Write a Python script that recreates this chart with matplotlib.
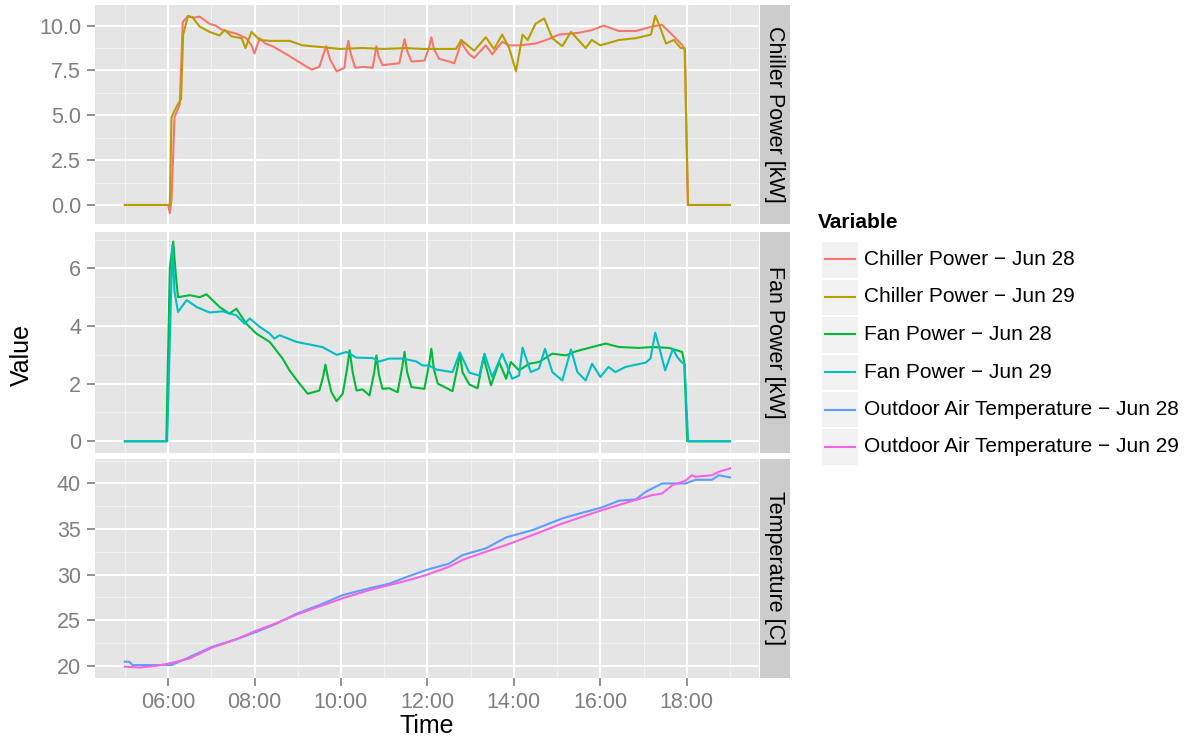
import matplotlib
matplotlib.use("Agg")
import matplotlib.pyplot as plt
from matplotlib.patches import Rectangle
from matplotlib.lines import Line2D
from matplotlib.ticker import FixedLocator, FuncFormatter

plt.rcParams['font.family'] = ['Liberation Sans', 'DejaVu Sans']

# ---------------------------
# DATA (time in hours of day)
# ---------------------------

chiller_28_t = [5.0, 6.0, 6.04, 6.08, 6.15, 6.27, 6.34, 6.45, 6.6, 6.73, 6.96, 7.1, 7.26, 7.58,
                7.81, 7.93, 8.0, 8.12, 8.25, 8.42, 8.81, 9.11, 9.32, 9.5, 9.58, 9.66, 9.75, 9.9,
                10.08, 10.12, 10.17, 10.23, 10.33, 10.5, 10.73, 10.78, 10.82, 10.87, 10.96, 11.35,
                11.42, 11.47, 11.53, 11.63, 11.93, 12.04, 12.09, 12.15, 12.27, 12.5, 12.62, 12.72,
                12.78, 12.85, 12.97, 13.08, 13.35, 13.5, 13.73, 13.89, 14.12, 14.5, 14.75, 15.05,
                15.5, 15.8, 16.08, 16.43, 16.82, 17.2, 17.42, 17.66, 17.9, 17.96, 18.02, 19.0]
chiller_28_kw = [0, 0, -0.45, 0.3, 4.9, 5.6, 10.2, 10.5, 10.45, 10.5, 10.1, 10.0, 9.75, 9.55,
                 9.3, 8.9, 8.45, 9.3, 9.0, 8.85, 8.3, 7.85, 7.55, 7.7, 8.3, 8.85, 8.1, 7.45,
                 7.65, 8.5, 9.15, 8.4, 7.65, 7.7, 7.65, 8.3, 8.85, 8.3, 7.8, 7.9,
                 8.7, 9.25, 8.6, 8.0, 8.05, 8.8, 9.35, 8.7, 8.15, 8.0, 7.9, 8.6,
                 9.15, 8.8, 8.4, 8.2, 8.9, 8.4, 9.1, 8.9, 8.9, 9.0, 9.2, 9.5,
                 9.6, 9.75, 10.0, 9.7, 9.7, 9.95, 10.05, 9.5, 8.9, 8.6, 0, 0]

chiller_29_t = [5.0, 6.04, 6.08, 6.2, 6.3, 6.35, 6.46, 6.57, 6.73, 6.96, 7.19, 7.31, 7.47, 7.7,
                7.79, 7.93, 8.12, 8.35, 8.81, 9.11, 9.57, 9.97, 10.5, 11.0, 11.5, 11.88, 12.66,
                12.78, 13.08, 13.35, 13.54, 13.73, 13.89, 14.05, 14.2, 14.32, 14.5, 14.7, 14.89,
                15.12, 15.32, 15.66, 15.8, 16.0, 16.43, 16.82, 17.17, 17.27, 17.36, 17.52, 17.7,
                17.86, 17.95, 18.03, 19.0]
chiller_29_kw = [0, 0, 4.9, 5.5, 5.9, 9.5, 10.55, 10.45, 9.95, 9.65, 9.45, 9.75, 9.4, 9.3,
                 8.75, 9.65, 9.2, 9.15, 9.15, 8.9, 8.8, 8.7, 8.75, 8.7, 8.75, 8.7, 8.7,
                 9.2, 8.6, 9.35, 8.7, 9.5, 8.75, 7.45, 9.5, 9.2, 10.1, 10.4, 9.3,
                 8.85, 9.65, 8.75, 9.2, 8.9, 9.2, 9.3, 9.5, 10.55, 10.05, 9.0, 9.2,
                 8.75, 8.75, 0, 0]

fan_28_t = [5.0, 5.96, 6.04, 6.12, 6.18, 6.23, 6.5, 6.73, 6.89, 7.19, 7.42, 7.58, 7.81, 8.04,
            8.35, 8.65, 8.81, 9.04, 9.23, 9.5, 9.58, 9.64, 9.7, 9.78, 9.9, 10.04, 10.14, 10.2,
            10.27, 10.36, 10.5, 10.66, 10.77, 10.82, 10.88, 10.96, 11.12, 11.31, 11.42, 11.47,
            11.53, 11.63, 11.93, 12.04, 12.09, 12.15, 12.24, 12.58, 12.7, 12.75, 12.81, 12.97,
            13.16, 13.3, 13.47, 13.66, 13.82, 13.93, 14.12, 14.35, 14.58, 14.89, 15.2, 15.43,
            15.81, 16.12, 16.43, 16.89, 17.2, 17.59, 17.89, 17.94, 18.01, 19.0]
fan_28_kw = [0, 0, 6.0, 6.93, 5.77, 5.0, 5.07, 5.0, 5.1, 4.66, 4.43, 4.6, 4.08, 3.74,
             3.45, 2.87, 2.46, 2.0, 1.65, 1.76, 2.2, 2.66, 2.2, 1.7, 1.39, 1.65, 2.5, 3.16,
             2.4, 1.76, 1.8, 1.59, 2.4, 2.98, 2.3, 1.82, 1.84, 1.7, 2.6, 3.1,
             2.4, 1.88, 1.82, 2.7, 3.21, 2.5, 2.0, 1.74, 2.6, 3.07, 2.4, 1.97,
             1.84, 2.92, 1.94, 2.75, 2.17, 2.75, 2.46, 2.69, 2.75, 3.04, 2.98, 3.12,
             3.27, 3.39, 3.27, 3.24, 3.27, 3.24, 3.1, 2.75, 0, 0]

fan_29_t = [5.0, 5.98, 6.02, 6.1, 6.15, 6.23, 6.43, 6.66, 6.96, 7.26, 7.58, 7.77, 7.89, 8.12,
            8.35, 8.46, 8.58, 8.97, 9.27, 9.57, 9.9, 10.13, 10.36, 10.73, 10.89, 11.12, 11.43,
            11.74, 11.89, 12.04, 12.2, 12.58, 12.75, 12.97, 13.2, 13.32, 13.5, 13.73, 13.96,
            14.12, 14.2, 14.39, 14.58, 14.72, 14.89, 15.12, 15.32, 15.47, 15.66, 15.81, 16.0,
            16.19, 16.35, 16.58, 17.05, 17.16, 17.27, 17.36, 17.5, 17.68, 17.78, 17.89, 17.95,
            18.03, 19.0]
fan_29_kw = [0, 0, 2.28, 6.81, 5.19, 4.49, 4.9, 4.66, 4.47, 4.51, 4.37, 4.08, 4.26, 3.97,
             3.74, 3.56, 3.68, 3.45, 3.36, 3.27, 3.0, 3.1, 2.9, 2.89, 2.77, 2.87, 2.87,
             2.77, 2.63, 2.63, 2.49, 2.4, 3.08, 2.38, 2.28, 3.04, 2.23, 3.04, 2.17,
             2.28, 3.25, 2.4, 2.52, 3.21, 2.4, 2.11, 3.19, 2.4, 2.11, 2.69, 2.23,
             2.58, 2.4, 2.58, 2.73, 2.87, 3.77, 3.27, 2.46, 3.21, 2.92, 2.73, 2.69,
             0, 0]

oat_28_t = [5.0, 5.1, 5.18, 5.74, 6.08, 6.43, 7.03, 7.58, 8.04, 8.5, 8.97, 9.5, 10.04, 10.66,
            11.12, 11.5, 11.97, 12.5, 12.81, 13.35, 13.82, 14.43, 15.12, 15.58, 16.04, 16.43,
            16.82, 17.05, 17.43, 17.66, 17.97, 18.2, 18.58, 18.74, 19.0]
oat_28_c = [20.44, 20.44, 20.07, 20.07, 20.07, 20.8, 22.1, 22.9, 23.7, 24.6, 25.7, 26.65, 27.75, 28.5,
            29.0, 29.7, 30.5, 31.2, 32.14, 32.87, 34.08, 34.88, 36.16, 36.78, 37.37, 38.1,
            38.25, 39.08, 40.0, 40.0, 40.0, 40.4, 40.4, 40.9, 40.66]

oat_29_t = [5.0, 5.35, 5.74, 6.08, 6.5, 7.03, 7.58, 8.04, 8.5, 8.97, 9.5, 10.04, 10.66, 11.12,
            11.5, 11.97, 12.5, 12.81, 13.35, 13.82, 14.43, 15.12, 15.58, 16.04, 16.6, 17.2,
            17.43, 17.66, 17.97, 18.12, 18.2, 18.58, 18.74, 19.0]
oat_29_c = [19.9, 19.8, 20.0, 20.3, 20.8, 22.0, 22.9, 23.85, 24.65, 25.6, 26.5, 27.4, 28.3, 28.85,
            29.3, 29.95, 30.85, 31.6, 32.5, 33.24, 34.33, 35.6, 36.34, 37.07, 37.88, 38.72,
            38.9, 39.8, 40.3, 40.9, 40.73, 40.9, 41.28, 41.65]

series_labels = ["Chiller Power \u2212 Jun 28", "Chiller Power \u2212 Jun 29",
                 "Fan Power \u2212 Jun 28", "Fan Power \u2212 Jun 29",
                 "Outdoor Air Temperature \u2212 Jun 28", "Outdoor Air Temperature \u2212 Jun 29"]
colors = ["#F8766D", "#B79F00", "#00BA38", "#00BFC4", "#619CFF", "#F564E3"]

strip_labels = ["Chiller Power [kW]", "Fan Power [kW]", "Temperature [C]"]
x_major = [6, 8, 10, 12, 14, 16, 18]
x_minor = [5, 7, 9, 11, 13, 15, 17, 19]

# ---------------------------
# FIGURE
# ---------------------------

W, H = 1195, 736
fig = plt.figure(figsize=(W / 100, H / 100), dpi=100)

TICK_GREY = "#7F7F7F"
panels = [
    # (top px, bottom px, ylim, yticks, ytick labels, series)
    (5, 224, (-1.06, 11.15), [0, 2.5, 5, 7.5, 10], ["0.0", "2.5", "5.0", "7.5", "10.0"],
     [(chiller_28_t, chiller_28_kw, 0), (chiller_29_t, chiller_29_kw, 1)]),
    (231.5, 452.5, (-0.39, 7.28), [0, 2, 4, 6], ["0", "2", "4", "6"],
     [(fan_28_t, fan_28_kw, 2), (fan_29_t, fan_29_kw, 3)]),
    (459, 678, (18.65, 42.68), [20, 25, 30, 35, 40], ["20", "25", "30", "35", "40"],
     [(oat_28_t, oat_28_c, 4), (oat_29_t, oat_29_c, 5)]),
]

left_px, right_px = 95, 759
for i, (top, bot, ylim, yt, ytl, series) in enumerate(panels):
    ax = fig.add_axes([left_px / W, 1 - bot / H, (right_px - left_px) / W, (bot - top) / H])
    ax.set_facecolor("#E5E5E5")
    for s in ax.spines.values():
        s.set_visible(False)
    ax.set_xlim(4.31, 19.67)
    ax.set_ylim(*ylim)

    # minor gridlines sit halfway between the majors
    step = yt[1] - yt[0]
    y_minor = [yt[0] - step / 2] + [v + step / 2 for v in yt]
    for v in y_minor:
        if ylim[0] < v < ylim[1]:
            ax.axhline(v, color="#F2F2F2", lw=0.8, zorder=0)
    for v in x_minor:
        ax.axvline(v, color="#F2F2F2", lw=0.8, zorder=0)
    for v in yt:
        ax.axhline(v, color="white", lw=1.5, zorder=0)
    for v in x_major:
        ax.axvline(v, color="white", lw=1.5, zorder=0)

    for t, v, c in series:
        ax.plot(t, v, color=colors[c], lw=1.5, zorder=3)

    ax.yaxis.set_major_locator(FixedLocator(yt))
    ax.set_yticklabels(ytl)
    ax.xaxis.set_major_locator(FixedLocator(x_major))
    ax.tick_params(axis="both", colors=TICK_GREY, labelsize=15.5, length=6, width=1.2, pad=4)
    if i < 2:
        ax.tick_params(axis="x", length=0, labelbottom=False)
    else:
        ax.xaxis.set_major_formatter(FuncFormatter(lambda h, p: "%02d:00" % int(round(h))))

    # facet strip on the right
    sax = fig.add_axes([760 / W, 1 - bot / H, 30 / W, (bot - top) / H])
    sax.set_facecolor("#CCCCCC")
    sax.set_xticks([])
    sax.set_yticks([])
    for s in sax.spines.values():
        s.set_visible(False)
    sax.text(0.5, 0.5, strip_labels[i], rotation=-90, ha="center", va="center",
             fontsize=15.5, color="black", transform=sax.transAxes)

fig.text(22 / W, 1 - 355 / H, "Value", rotation=90, ha="center", va="center", fontsize=18)
fig.text(427 / W, 1 - 733 / H, "Time", ha="center", va="baseline", fontsize=18)

# ---------------------------
# LEGEND
# ---------------------------

fig.text(818 / W, 1 - 222 / H, "Variable", ha="left", va="center", fontsize=15, fontweight="bold")
key_top = 242
key_h = 37.5
for k, (lab, col) in enumerate(zip(series_labels, colors)):
    y0 = key_top + k * key_h
    fig.patches.append(Rectangle((822 / W, 1 - (y0 + 35.5) / H), 36 / W, 35.5 / H,
                                 transform=fig.transFigure, facecolor="#F2F2F2",
                                 edgecolor="none"))
    yc = 1 - (y0 + 17.5) / H
    fig.lines.append(Line2D([825 / W, 855 / W], [yc, yc], transform=fig.transFigure,
                            color=col, lw=1.5))
    fig.text(864 / W, yc, lab, ha="left", va="center", fontsize=15)

fig.savefig("out.png", dpi=100)
